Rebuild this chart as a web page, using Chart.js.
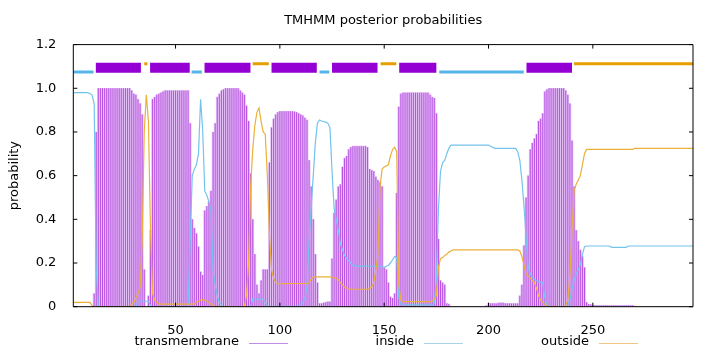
<!DOCTYPE html>
<html>
<head>
<meta charset="utf-8">
<script src="https://cdn.jsdelivr.net/npm/chart.js@4.4.0/dist/chart.umd.min.js"></script>
<style>
  html, body { margin: 0; padding: 0; background: #fff; }
</style>
</head>
<body>
<canvas id="myChart" width="720" height="352"></canvas>
<script>
// posterior probability of transmembrane state, residues 1..298
var transmembrane = [
  0, 0, 0, 0, 0, 0, 0, 0, 0, 0,
  0.06, 0.8, 1, 1, 1, 1, 1, 1, 1, 1,
  1, 1, 1, 1, 1, 1, 1, 1, 0.99, 0.975,
  0.97, 0.95, 0.93, 0.88, 0.17, 0, 0.05, 0.35, 0.95, 0.96,
  0.97, 0.975, 0.98, 0.985, 0.99, 0.99, 0.99, 0.99, 0.99, 0.99,
  0.99, 0.99, 0.99, 0.99, 0.99, 0.99, 0.84, 0.4, 0.36, 0.335,
  0.275, 0.16, 0.145, 0.44, 0.46, 0.48, 0.53, 0.8, 0.84, 0.96,
  0.975, 0.99, 0.995, 1, 1, 1, 1, 1, 1, 1,
  0.99, 0.98, 0.97, 0.92, 0.85, 0.61, 0.4, 0.24, 0.1, 0.06,
  0.12, 0.17, 0.17, 0.17, 0.66, 0.82, 0.86, 0.88, 0.89, 0.895,
  0.895, 0.895, 0.895, 0.895, 0.895, 0.895, 0.893, 0.89, 0.885, 0.88,
  0.875, 0.865, 0.855, 0.67, 0.55, 0.4, 0.24, 0.11, 0.015, 0.015,
  0.018, 0.02, 0.023, 0.023, 0.22, 0.43, 0.49, 0.55, 0.56, 0.64,
  0.68, 0.69, 0.72, 0.73, 0.735, 0.735, 0.735, 0.735, 0.735, 0.735,
  0.735, 0.73, 0.63, 0.625, 0.62, 0.595, 0.58, 0.57, 0.55, 0.18,
  0.17, 0.11, 0.045, 0.04, 0.06, 0.52, 0.915, 0.975, 0.98, 0.98,
  0.98, 0.98, 0.98, 0.98, 0.98, 0.98, 0.98, 0.98, 0.98, 0.98,
  0.98, 0.97, 0.96, 0.955, 0.885, 0.31, 0.12, 0.11, 0.1, 0.015,
  0.012, 0, 0, 0, 0, 0, 0, 0, 0, 0,
  0, 0, 0, 0, 0, 0, 0, 0, 0.005, 0.015,
  0.015, 0.015, 0.015, 0.015, 0.018, 0.018, 0.018, 0.015, 0.015, 0.015,
  0.015, 0.015, 0.015, 0.015, 0.05, 0.1, 0.28, 0.5, 0.6, 0.72,
  0.75, 0.77, 0.79, 0.85, 0.86, 0.885, 0.985, 0.995, 1, 1,
  1, 1, 1, 1, 1, 1, 0.99, 0.97, 0.93, 0.76,
  0.55, 0.35, 0.3, 0.26, 0.23, 0.18, 0.02, 0.012, 0.01, 0.006,
  0.006, 0.006, 0.006, 0.006, 0.006, 0.006, 0.006, 0.006, 0.006, 0.006,
  0.006, 0.006, 0.006, 0.006, 0.006, 0.006, 0.006, 0.006, 0.006, 0.003,
  0, 0, 0, 0, 0, 0, 0, 0, 0, 0,
  0, 0, 0, 0, 0, 0, 0, 0, 0, 0,
  0, 0, 0, 0, 0, 0, 0, 0
];

// [residue, probability]
var inside = [
  [1, 0.98], [8, 0.98], [9, 0.975], [10, 0.97], [11, 0.93], [12, 0.17], [13, 0],
  [31, 0], [32, 0.02], [33, 0.025], [37, 0.025], [38, 0.005], [39, 0],
  [56, 0], [57, 0.3], [58, 0.6], [59, 0.63], [60, 0.65], [61, 0.7], [62, 0.95],
  [63, 0.81], [64, 0.53], [65, 0.51], [66, 0.48], [67, 0.44], [68, 0.17],
  [69, 0.1], [70, 0.05], [71, 0.02], [72, 0.01], [73, 0],
  [86, 0], [87, 0.035], [92, 0.035], [93, 0.02], [94, 0.005], [95, 0],
  [109, 0.003], [110, 0.01], [111, 0.02], [112, 0.04], [113, 0.09], [114, 0.3],
  [115, 0.45], [116, 0.6], [117, 0.75], [118, 0.84], [119, 0.855], [120, 0.85],
  [122, 0.845], [123, 0.84], [124, 0.82], [125, 0.62], [126, 0.45], [127, 0.4],
  [128, 0.35], [129, 0.29], [130, 0.26], [131, 0.235], [132, 0.22], [133, 0.21],
  [134, 0.2], [135, 0.19], [136, 0.186], [148, 0.186], [150, 0.18], [151, 0.185],
  [152, 0.19], [153, 0.2], [154, 0.215], [155, 0.23], [156, 0.225], [157, 0.04],
  [158, 0.012], [159, 0.008], [173, 0.008], [174, 0.015], [175, 0.12], [176, 0.45],
  [177, 0.62], [178, 0.66], [179, 0.67], [180, 0.7], [181, 0.725], [182, 0.74],
  [200, 0.74], [201, 0.735], [203, 0.725], [213, 0.725], [214, 0.71], [215, 0.67],
  [216, 0.58], [217, 0.46], [218, 0.32], [219, 0.18], [220, 0.15], [221, 0.135],
  [222, 0.125], [223, 0.12], [224, 0.115], [226, 0.11], [227, 0.04], [228, 0.01],
  [229, 0], [237, 0], [238, 0.005], [239, 0.03], [240, 0.08], [241, 0.12],
  [242, 0.15], [243, 0.17], [244, 0.19], [245, 0.24], [246, 0.275], [247, 0.278],
  [258, 0.278], [259, 0.272], [266, 0.272], [267, 0.278], [298, 0.278]
];

// [residue, probability]
var outside = [
  [1, 0.02], [9, 0.02], [10, 0.005], [11, 0], [28, 0], [29, 0.01], [30, 0.02],
  [31, 0.04], [32, 0.06], [33, 0.09], [34, 0.3], [35, 0.8], [36, 0.97], [37, 0.85],
  [38, 0.35], [39, 0.06], [40, 0.03], [41, 0.02], [42, 0.012], [59, 0.012],
  [60, 0.02], [61, 0.025], [62, 0.03], [63, 0.032], [64, 0.03], [65, 0.025],
  [66, 0.02], [67, 0.012], [68, 0.005], [69, 0], [83, 0], [84, 0.05], [85, 0.2],
  [86, 0.55], [87, 0.72], [88, 0.83], [89, 0.89], [90, 0.91], [91, 0.85], [92, 0.8],
  [93, 0.79], [94, 0.6], [95, 0.33], [96, 0.17], [97, 0.13], [98, 0.11], [99, 0.105],
  [113, 0.107], [114, 0.11], [115, 0.125], [116, 0.135], [117, 0.137], [124, 0.137],
  [125, 0.135], [127, 0.13], [128, 0.125], [129, 0.11], [130, 0.1], [131, 0.09],
  [132, 0.085], [133, 0.08], [142, 0.08], [143, 0.085], [144, 0.09], [145, 0.11],
  [146, 0.17], [147, 0.24], [148, 0.55], [149, 0.63], [150, 0.64], [152, 0.65],
  [153, 0.69], [154, 0.72], [155, 0.73], [156, 0.71], [157, 0.1], [158, 0.03],
  [159, 0.023], [172, 0.023], [173, 0.025], [174, 0.035], [175, 0.05], [176, 0.18],
  [177, 0.22], [178, 0.225], [179, 0.235], [180, 0.24], [181, 0.25], [182, 0.255],
  [183, 0.26], [214, 0.26], [215, 0.255], [216, 0.23], [217, 0.19], [218, 0.15],
  [219, 0.14], [220, 0.13], [221, 0.12], [222, 0.11], [223, 0.085], [224, 0.05],
  [225, 0.03], [226, 0.02], [227, 0.01], [228, 0.003], [229, 0], [236, 0],
  [237, 0.005], [238, 0.03], [239, 0.14], [240, 0.35], [241, 0.53], [242, 0.56],
  [243, 0.58], [244, 0.6], [245, 0.65], [246, 0.7], [247, 0.72], [269, 0.72],
  [270, 0.725], [298, 0.725]
];

// predicted topology: [from, to] residue ranges
var insideSegs = [[1, 10.7], [57.7, 62.6], [119, 123.7], [176.4, 216.9]];
var tmSegs = [[11.8, 33.4], [37.8, 56.8], [63.9, 85.9], [96, 117.7], [125, 146.8], [157.2, 175], [218.2, 240]];
var outsideSegs = [[35, 36.5], [87, 94.7], [148.3, 155.8], [241, 298]];
var topoLevels = { inside: 1.075, tm: 1.094, outside: 1.112 };

var xTicks = [50, 100, 150, 200, 250];
var seqLength = 298;

function pairsToXY(pairs) {
  return pairs.map(function (p) { return { x: p[0], y: p[1] }; });
}

function segsToXY(segs, y) {
  var pts = [];
  segs.forEach(function (s) {
    pts.push({ x: s[0], y: y }, { x: s[1], y: y }, { x: s[1], y: null });
  });
  return pts;
}

var tmXY = transmembrane.map(function (v, i) { return { x: i + 1, y: v }; });

// gnuplot style frame: border plus inward ticks on all sides
var framePlugin = {
  id: 'frame',
  afterDatasetsDraw: function (chart) {
    var a = chart.chartArea, ctx = chart.ctx;
    var xs = chart.scales.x, ys = chart.scales.y;
    ctx.save();
    ctx.strokeStyle = '#000';
    ctx.lineWidth = 1;
    ctx.beginPath();
    ctx.rect(a.left, a.top, a.right - a.left, a.bottom - a.top);
    xTicks.forEach(function (v) {
      var px = xs.getPixelForValue(v);
      ctx.moveTo(px, a.bottom); ctx.lineTo(px, a.bottom - 4);
      ctx.moveTo(px, a.top); ctx.lineTo(px, a.top + 4);
    });
    ys.ticks.forEach(function (t) {
      var py = ys.getPixelForValue(t.value);
      ctx.moveTo(a.left, py); ctx.lineTo(a.left + 4, py);
      ctx.moveTo(a.right, py); ctx.lineTo(a.right - 4, py);
    });
    ctx.stroke();
    ctx.restore();
  }
};

// key below the plot, text first and sample line after it
var keyPlugin = {
  id: 'keyBelow',
  afterDraw: function (chart) {
    var ctx = chart.ctx;
    var items = [
      { label: chart.data.datasets[1].label, color: '#c48ae8', right: 239, x0: 249, x1: 288 },
      { label: chart.data.datasets[2].label, color: '#a6d3ea', right: 414, x0: 424, x1: 463 },
      { label: chart.data.datasets[3].label, color: '#f0c680', right: 589, x0: 599, x1: 638 }
    ];
    var y = 342;
    ctx.save();
    ctx.font = "13px 'DejaVu Sans'";
    ctx.fillStyle = '#000';
    ctx.textAlign = 'right';
    ctx.textBaseline = 'middle';
    items.forEach(function (it) {
      ctx.fillText(it.label, it.right, y);
      ctx.strokeStyle = it.color;
      ctx.lineWidth = 1.2;
      ctx.beginPath();
      ctx.moveTo(it.x0, y + 1.5);
      ctx.lineTo(it.x1, y + 1.5);
      ctx.stroke();
    });
    ctx.restore();
  }
};

Chart.defaults.font.family = "'DejaVu Sans', sans-serif";
Chart.defaults.font.size = 13;
Chart.defaults.color = '#000';

var ctx = document.getElementById('myChart').getContext('2d');
var myChart = new Chart(ctx, {
  type: 'bar',
  data: {
    datasets: [{
      label: 'transmembrane fill',
      data: tmXY,
      backgroundColor: '#e4c0f6',
      barPercentage: 1,
      categoryPercentage: 1,
      grouped: false,
      order: 6
    }, {
      label: 'transmembrane',
      data: tmXY,
      backgroundColor: '#b652e0',
      barThickness: 1,
      inflateAmount: 0,
      grouped: false,
      order: 5
    }, {
      type: 'line',
      label: 'inside',
      data: pairsToXY(inside),
      borderColor: '#74c2ee',
      borderWidth: 1.2,
      pointRadius: 0,
      tension: 0,
      order: 4
    }, {
      type: 'line',
      label: 'outside',
      data: pairsToXY(outside),
      borderColor: '#eab03a',
      borderWidth: 1.2,
      pointRadius: 0,
      tension: 0,
      order: 3
    }, {
      type: 'line',
      label: 'inside topology',
      data: segsToXY(insideSegs, topoLevels.inside),
      borderColor: '#56b4e9',
      borderWidth: 3,
      borderCapStyle: 'butt',
      pointRadius: 0,
      spanGaps: false,
      order: 2
    }, {
      type: 'line',
      label: 'outside topology',
      data: segsToXY(outsideSegs, topoLevels.outside),
      borderColor: '#e69f00',
      borderWidth: 3,
      borderCapStyle: 'butt',
      pointRadius: 0,
      spanGaps: false,
      order: 2
    }, {
      type: 'line',
      label: 'TM topology',
      data: segsToXY(tmSegs, topoLevels.tm),
      borderColor: '#9400d3',
      borderWidth: 10,
      borderCapStyle: 'butt',
      pointRadius: 0,
      spanGaps: false,
      order: 1
    }]
  },
  options: {
    responsive: false,
    animation: false,
    layout: { padding: { left: 0, right: 27, top: 0, bottom: 0 } },
    plugins: {
      legend: { display: false },
      tooltip: { enabled: false },
      title: {
        display: true,
        text: 'TMHMM posterior probabilities',
        fullSize: false,
        font: { size: 13, weight: 'normal' },
        padding: { top: 13, bottom: 16 }
      }
    },
    scales: {
      x: {
        type: 'linear',
        min: 1,
        max: seqLength,
        offset: false,
        grid: { display: false },
        border: { display: false },
        ticks: { padding: 8, maxRotation: 0, autoSkip: false },
        afterBuildTicks: function (s) {
          s.ticks = xTicks.map(function (v) { return { value: v }; });
        },
        afterFit: function (s) { s.height = 45.3; }
      },
      y: {
        min: 0,
        max: 1.2,
        grid: { display: false },
        border: { display: false },
        ticks: { stepSize: 0.2, padding: 9 },
        title: {
          display: true,
          text: 'probability',
          padding: { top: 7, bottom: 0 }
        },
        afterFit: function (s) { s.width = 73.3; }
      }
    }
  },
  plugins: [framePlugin, keyPlugin]
});
</script>
</body>
</html>
